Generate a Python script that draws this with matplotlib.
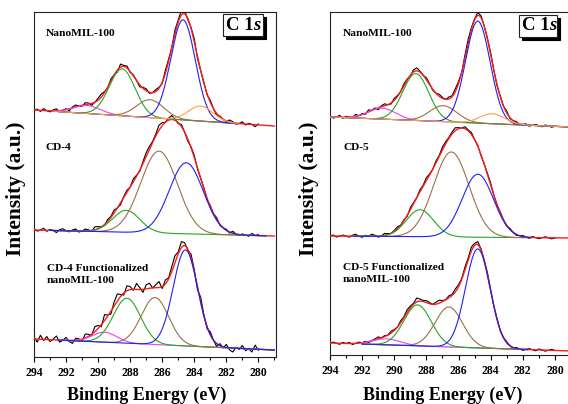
import numpy as np
import matplotlib
matplotlib.use('Agg')
import matplotlib.pyplot as plt
from matplotlib.patches import Rectangle

plt.rcParams['font.family'] = ['Liberation Serif', 'DejaVu Serif']
plt.rcParams['font.weight'] = 'bold'

# ---------------- data ----------------
ticks = [294, 292, 290, 288, 286, 284, 282, 280]
left_labels = ["NanoMIL-100", "CD-4", "CD-4 Functionalized\nnanoMIL-100"]
right_labels = ["NanoMIL-100", "CD-5", "CD-5 Functionalized\nnanoMIL-100"]

# background intensity at 294 eV (hi) and 279 eV (lo), per spectrum
left_bg_hi = [247, 127, 18]
left_bg_lo = [231, 121, 7]
right_bg_hi = [238, 119, 12]
right_bg_lo = [228, 117, 4]

# components: colour key, centre (eV), height, FWHM (eV)
L1_kind = ["magenta", "green", "brown", "blue", "orange"]
L1_center = [290.7, 288.5, 286.75, 284.7, 283.6]
L1_height = [8, 47, 18, 100, 15]
L1_fwhm = [2.0, 1.9, 2.0, 1.8, 1.8]

L2_kind = ["green", "brown", "blue"]
L2_center = [288.25, 286.2, 284.5]
L2_height = [22, 82, 71]
L2_fwhm = [2.0, 2.7, 2.5]

L3_kind = ["magenta", "green", "brown", "blue"]
L3_center = [289.6, 288.2, 286.45, 284.55]
L3_height = [10, 45, 47, 96]
L3_fwhm = [1.8, 2.0, 2.0, 1.8]

R1_kind = ["magenta", "green", "brown", "blue", "orange"]
R1_center = [290.75, 288.66, 286.95, 284.8, 283.9]
R1_height = [11, 47, 16, 102, 10]
R1_fwhm = [2.0, 1.9, 2.0, 1.8, 1.8]

R2_kind = ["green", "brown", "blue"]
R2_center = [288.4, 286.45, 284.8]
R2_height = [27, 85, 63]
R2_fwhm = [2.0, 2.6, 2.3]

R3_kind = ["magenta", "green", "brown", "blue"]
R3_center = [290.5, 288.55, 286.6, 284.8]
R3_height = [6, 41, 40, 99]
R3_fwhm = [2.0, 2.0, 2.0, 1.8]

# residual of measured (black) data around the fit envelope, 294 -> 280 eV
res_L1 = [0, 1, -1, 2, 0, -1, 1, 2, -1, 0,
          1, -2, 1, 2, 0, -1, 2, 1, -2, 0,
          2, 3, 1, -1, 2, 0, -2, 3, 1, 2,
          -1, 1, 0, -2, 1, 2, -1, 0, 2, 1,
          -1, 3, 2, 0, 4, 2, 5, 3, -1, 1,
          3, -2, 0, 1, -1, 2, 0, -2, 1, 0,
          -1, 2, 1, -1, 0, 2, -1, 1, 0, -2,
          1]
res_L2 = [1, -1, 0, 2, -1, 1, 0, -2, 1, 2,
          0, -1, 1, 2, -1, 0, 2, 1, -1, 3,
          2, 0, -1, 2, 1, 3, 0, -2, 1, 2,
          0, 3, 1, -1, 2, 4, 3, 1, 2, 5,
          3, 0, 2, 4, 1, -1, 2, 0, -2, 1,
          2, -1, 0, 1, -2, 1, 0, 2, -1, 0,
          1, -1, 2, 0, -1, 1, 0, -1, 2, 0,
          1]
res_L3 = [2, -3, 4, -1, 3, -2, 1, 4, -2, 0,
          3, -1, -3, 2, 1, -2, 4, 2, -1, 5,
          3, -2, 6, 1, -3, 4, 7, 2, -2, 5,
          3, -1, 6, 2, -3, 4, 5, 0, 3, 6,
          -2, 4, 1, 5, 7, 2, 6, 3, -1, 4,
          2, -3, 5, 1, -2, 3, 0, -3, 2, -1,
          3, -2, -4, 1, -1, 3, -2, 0, -3, 4,
          -1]
res_R1 = [1, -1, 0, 2, -1, 1, 0, -1, 2, 0,
          1, -1, 2, 0, 1, -2, 1, 2, 0, -1,
          2, 1, 0, 2, 1, -1, 2, 3, 1, 0,
          2, 1, -1, 0, 2, 1, 0, 2, 1, 3,
          2, 0, 3, 4, 2, 1, 3, 2, 0, 1,
          2, 0, -1, 1, 0, 2, -1, 0, 1, -1,
          0, 1, -1, 0, 1, 0, -1, 1, 0, -1,
          0]
res_R2 = [0, 1, -1, 0, 1, 0, -1, 1, 2, 0,
          -1, 1, 0, 2, 1, -1, 0, 2, 1, 0,
          1, 2, 0, 1, -1, 2, 1, 0, 2, 1,
          3, 1, 0, 2, 1, 3, 2, 1, 2, 3,
          1, 0, 2, 1, 2, 0, 1, -1, 0, 1,
          2, 0, -1, 1, 0, -1, 1, 0, -1, 0,
          1, 0, -1, 1, 0, -1, 0, 1, 0, -1,
          0]
res_R3 = [0, 1, 0, -1, 1, 0, 1, -1, 0, 1,
          0, 1, -1, 0, 1, 2, 0, 1, 0, 2,
          1, 0, 2, 1, 3, 2, 1, 4, 2, 1,
          2, 1, 0, 2, 3, 1, 0, 2, 1, 3,
          2, 1, 3, 2, 4, 2, 3, 1, 0, 2,
          1, 0, 1, -1, 0, 1, 0, -1, 1, 0,
          -1, 0, 1, 0, -1, 1, 0, -1, 0, 1,
          0]

# ---------------- styling ----------------
colors = {"magenta": "#f040f0", "green": "#22a822", "brown": "#9c7048",
          "blue": "#2020f0", "orange": "#ffa040"}
RED = "#ff1a1a"

W, H = 568, 404
fig = plt.figure(figsize=(W / 100, H / 100), dpi=100)


def fx(x):
    return x / W


def fy(y):
    return 1 - y / H


axL = fig.add_axes([fx(34), fy(357), fx(276) - fx(34), fy(12) - fy(357)])
axR = fig.add_axes([fx(330), fy(355), fx(571) - fx(330), fy(12) - fy(355)])
axL.set_xlim(294, 278.9)
axR.set_xlim(294, 279.2)
axL.set_ylim(0, 345)
axR.set_ylim(0, 343)


def gauss(E, c, h, w):
    return h * np.exp(-4 * np.log(2) * (E - c) ** 2 / w ** 2)


def draw_spectrum(ax, hi, lo, kind, center, height, fwhm, res, comp_range, grey_bg=False):
    def bg(E):
        return lo + (hi - lo) * (E - 279) / (294 - 279)

    def env(E):
        s = bg(E)
        for c, h, w in zip(center, height, fwhm):
            s = s + gauss(E, c, h, w)
        return s

    E_raw = np.linspace(294, 280, len(res))
    ax.plot(E_raw, env(E_raw) + np.array(res), color="black", lw=0.8, zorder=2)
    E_fit = np.linspace(294, 279, 500)
    ax.plot(E_fit, env(E_fit), color=RED, lw=1.0, zorder=3)
    E_c = np.linspace(comp_range[0], comp_range[1], 400)
    if grey_bg:
        ax.plot(E_c, bg(E_c), color="#b0b0b0", lw=0.8, zorder=3)
    for k, c, h, w in zip(kind, center, height, fwhm):
        ax.plot(E_c, bg(E_c) + gauss(E_c, c, h, w), color=colors[k], lw=0.8, zorder=4)


draw_spectrum(axL, left_bg_hi[0], left_bg_lo[0], L1_kind, L1_center, L1_height, L1_fwhm, res_L1, (292.5, 281.3))
draw_spectrum(axL, left_bg_hi[1], left_bg_lo[1], L2_kind, L2_center, L2_height, L2_fwhm, res_L2, (293.0, 279.5))
draw_spectrum(axL, left_bg_hi[2], left_bg_lo[2], L3_kind, L3_center, L3_height, L3_fwhm, res_L3, (292.5, 279.0))
draw_spectrum(axR, right_bg_hi[0], right_bg_lo[0], R1_kind, R1_center, R1_height, R1_fwhm, res_R1, (294.0, 279.2))
draw_spectrum(axR, right_bg_hi[1], right_bg_lo[1], R2_kind, R2_center, R2_height, R2_fwhm, res_R2, (292.5, 281.5))
draw_spectrum(axR, right_bg_hi[2], right_bg_lo[2], R3_kind, R3_center, R3_height, R3_fwhm, res_R3, (292.0, 281.7), grey_bg=True)

for ax in (axL, axR):
    ax.set_xticks(ticks)
    ax.set_xticks(np.arange(279, 295, 1), minor=True)
    ax.set_yticks([])
    ax.tick_params(axis='x', which='major', direction='out', length=3.5, width=0.8,
                   pad=3.5, labelsize=8.5, top=False)
    ax.tick_params(axis='x', which='minor', direction='out', length=2, width=0.8, top=False)
    for lab in ax.get_xticklabels():
        lab.set_fontweight('bold')
    for s in ax.spines.values():
        s.set_linewidth(0.8)
        s.set_color('#222222')

# C 1s boxes with drop shadow
for ax, (x0, x1, y0, y1), axx0, axw, axy0, axh in [
        (axL, (223, 263, 14, 36), 34, 242, 12, 345),
        (axR, (519, 557, 15, 37), 330, 241, 12, 343)]:
    bx = (x0 - axx0) / axw
    bw = (x1 - x0) / axw
    by = 1 - (y1 - axy0) / axh
    bh = (y1 - y0) / axh
    sx = 3 / axw
    sy = 3 / axh
    ax.add_patch(Rectangle((bx + sx, by - sy), bw, bh, transform=ax.transAxes,
                           facecolor='black', edgecolor='black', lw=0.8, zorder=6, clip_on=False))
    ax.add_patch(Rectangle((bx, by), bw, bh, transform=ax.transAxes,
                           facecolor='white', edgecolor='#222222', lw=0.8, zorder=7, clip_on=False))
    t1 = ax.text(bx + 0.07 * bw, by + bh / 2, "C 1", transform=ax.transAxes, fontsize=13.5,
                 fontweight='bold', ha='left', va='center', zorder=8)
    ax.annotate("s", xy=(1, 0), xycoords=t1, fontsize=13.5, fontweight='bold',
                fontstyle='italic', ha='left', va='bottom', zorder=8)

# sample labels
for x, y, txt in [(46, 33, left_labels[0]), (46, 147, left_labels[1]),
                  (343, 33, right_labels[0]), (343, 148, right_labels[1])]:
    fig.text(fx(x), fy(y), txt, fontsize=8.2, fontweight='bold', ha='left', va='center')
fig.text(fx(47), fy(274.5), left_labels[2], fontsize=8.2, fontweight='bold', ha='left',
         va='center', linespacing=1.5)
fig.text(fx(343), fy(273.5), right_labels[2], fontsize=8.2, fontweight='bold', ha='left',
         va='center', linespacing=1.5)

# axis titles
fig.text(fx(16), fy(189), "Intensity (a.u.)", rotation=90, fontsize=15.5, fontweight='bold',
         ha='center', va='center')
fig.text(fx(309), fy(189), "Intensity (a.u.)", rotation=90, fontsize=15.5, fontweight='bold',
         ha='center', va='center')
fig.text(fx(147), fy(400), "Binding Energy (eV)", fontsize=13, fontweight='bold',
         ha='center', va='baseline')
fig.text(fx(443), fy(400), "Binding Energy (eV)", fontsize=13, fontweight='bold',
         ha='center', va='baseline')

fig.savefig("out.png", dpi=100)
